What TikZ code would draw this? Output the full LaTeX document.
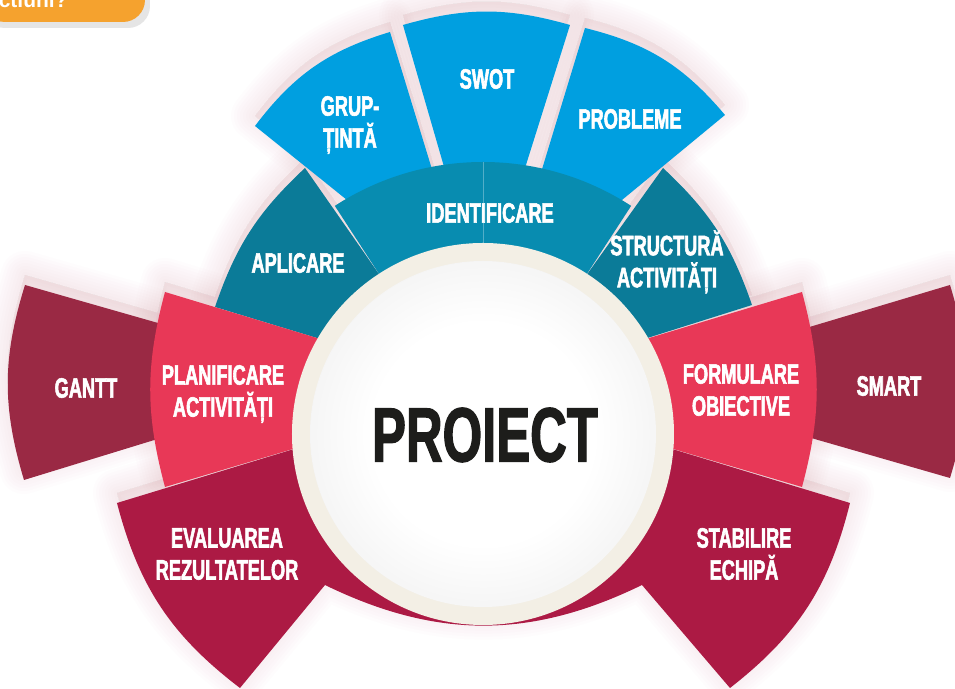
\documentclass[tikz,border=0pt]{standalone}
\usepackage{fontspec}
\newfontfamily\lblfont[FakeStretch=0.65,FakeBold=2]{Liberation Sans Bold}
\newfontfamily\bigfont[FakeStretch=0.66,FakeBold=1.5]{Liberation Sans Bold}
\newfontfamily\boxfont{Liberation Sans Bold}
\definecolor{fanblue}{HTML}{009FE0}
\definecolor{identc}{HTML}{088CB0}
\definecolor{aplicc}{HTML}{0B7B98}
\definecolor{planc}{HTML}{E83857}
\definecolor{ganttc}{HTML}{9A2944}
\definecolor{evalc}{HTML}{AC1A44}
\definecolor{ringc}{HTML}{F3EFE5}
\definecolor{orangec}{HTML}{F5A22E}
\definecolor{glowc}{HTML}{E7A3AB}
\definecolor{textdark}{HTML}{1D1D1B}
\pgfdeclareradialshading{ball}{\pgfpointorigin}{color(0bp)=(white); color(16bp)=(white); color(28bp)=(black!5); color(38bp)=(black!13); color(46bp)=(black!23); color(50bp)=(black!28)}

\def\grupPath{(-228,308) -- (-136,234) -- (-45,245) -- (-93,402) to[bend right=18] (-228,308) -- cycle}
\def\swotPath{(-80,409) -- (-34,250) -- (37,250) -- (87,409) to[bend right=16] (-80,409) -- cycle}
\def\problPath{(102,406) to[bend left=18] (242,319) -- (139,234) -- (53,245) -- cycle}
\def\identPath{(57:175) -- (57:272) arc[start angle=57,end angle=123,radius=272] -- (123:175) -- cycle}
\def\aplicPath{(-178,266) -- (-95,147) -- (-120,82) -- (-268,127) to[bend left=14] (-178,266) -- cycle}
\def\structPath{(180,266) -- (95,147) -- (120,82) -- (269,129) to[bend right=14] (180,266) -- cycle}
\def\ganttPath{(-458,149) -- (-283,99) -- (-283,8) -- (-459,-46) to[bend left=17] (-458,149) -- cycle}
\def\smartPath{(467,149) -- (283,94) -- (283,9) -- (467,-44) to[bend right=17] (467,149) -- cycle}
\def\planPath{(-318,142) -- (-143,89) -- (-143,-1) -- (-318,-53) to[bend left=15] (-318,142) -- cycle}
\def\formPath{(319,142) -- (143,89) -- (143,-1) -- (319,-53) to[bend right=15] (319,142) -- cycle}
\def\evalPath{(-366,-69) -- (-143,-1) -- (143,-1) -- (367,-69) to[bend left=19] (247,-254) -- (159,-151) to[bend left=26] (-158,-151) -- (-243,-254) to[bend left=19] (-366,-69) -- cycle}

\begin{document}
\begin{tikzpicture}[x=0.5pt,y=0.5pt,
  lbl/.style={text=white,align=center,font=\lblfont\fontsize{14}{16}\selectfont},
  halo/.style={draw=glowc,fill=glowc,line join=round}]
\useasboundingbox (-483,-255) rectangle (472,434);
\clip (-483,-255) rectangle (472,434);
\fill[white] (-483,-255) rectangle (472,434);
\begin{scope}[yshift=5pt]
\foreach \w in {24pt,21pt,18pt,15pt,12pt,9pt,6pt,3pt}{
  \path[halo,line width=\w,opacity=0.025] \grupPath;
  \path[halo,line width=\w,opacity=0.025] \swotPath;
  \path[halo,line width=\w,opacity=0.025] \problPath;
  \path[halo,line width=\w,opacity=0.025] \aplicPath;
  \path[halo,line width=\w,opacity=0.025] \structPath;
  \path[halo,line width=\w,opacity=0.025] \ganttPath;
  \path[halo,line width=\w,opacity=0.025] \smartPath;
  \path[halo,line width=\w,opacity=0.025] \planPath;
  \path[halo,line width=\w,opacity=0.025] \formPath;
  \path[halo,line width=\w,opacity=0.025] \evalPath;
}
\end{scope}
\fill[fanblue] \grupPath;
\fill[fanblue] \swotPath;
\fill[fanblue] \problPath;
\fill[identc] \identPath;
\draw[identc!70!white,line width=0.3pt] (90:191) -- (90:272);
\fill[aplicc] \aplicPath;
\fill[aplicc] \structPath;
\fill[ganttc] \ganttPath;
\fill[ganttc] \smartPath;
\fill[planc] \planPath;
\fill[planc] \formPath;
\fill[evalc] \evalPath;
\fill[ringc] (0,0) circle[radius=191];
\shade[shading=ball] (0,0) circle[radius=173];
\fill[black!10,rounded corners=11pt] (-500,406) rectangle (-333,474);
\fill[orangec,rounded corners=11pt] (-500,412) rectangle (-338,480);
\node[anchor=base east,text=white,inner sep=0pt,font=\boxfont\fontsize{10.5}{12}\selectfont] (intrebare) at (-415,426) {actiuni?};
\node[lbl] (grup) at (-133,309) {GRUP-\\ȚINTĂ};
\node[lbl] (swot) at (4,355) {SWOT};
\node[lbl] (probleme) at (147,315) {PROBLEME};
\node[lbl] (identif) at (7,221) {IDENTIFICARE};
\node[lbl] (aplicare) at (-185,171) {APLICARE};
\node[lbl] (structura) at (184,172) {STRUCTURĂ\\ACTIVITĂȚI};
\node[lbl] (planif) at (-260,40) {PLANIFICARE\\ACTIVITĂȚI};
\node[lbl] (gantt) at (-397,46) {GANTT};
\node[lbl] (formulare) at (258,44) {FORMULARE\\OBIECTIVE};
\node[lbl] (smart) at (406,48) {SMART};
\node[lbl] (evaluare) at (-256,-120) {EVALUAREA\\REZULTATELOR};
\node[lbl] (stabilire) at (261,-120) {STABILIRE\\ECHIPĂ};
\node[text=textdark,font=\bigfont\fontsize{38.5}{40}\selectfont] (proiect) at (2,-1) {PROIECT};
\end{tikzpicture}
\end{document}
